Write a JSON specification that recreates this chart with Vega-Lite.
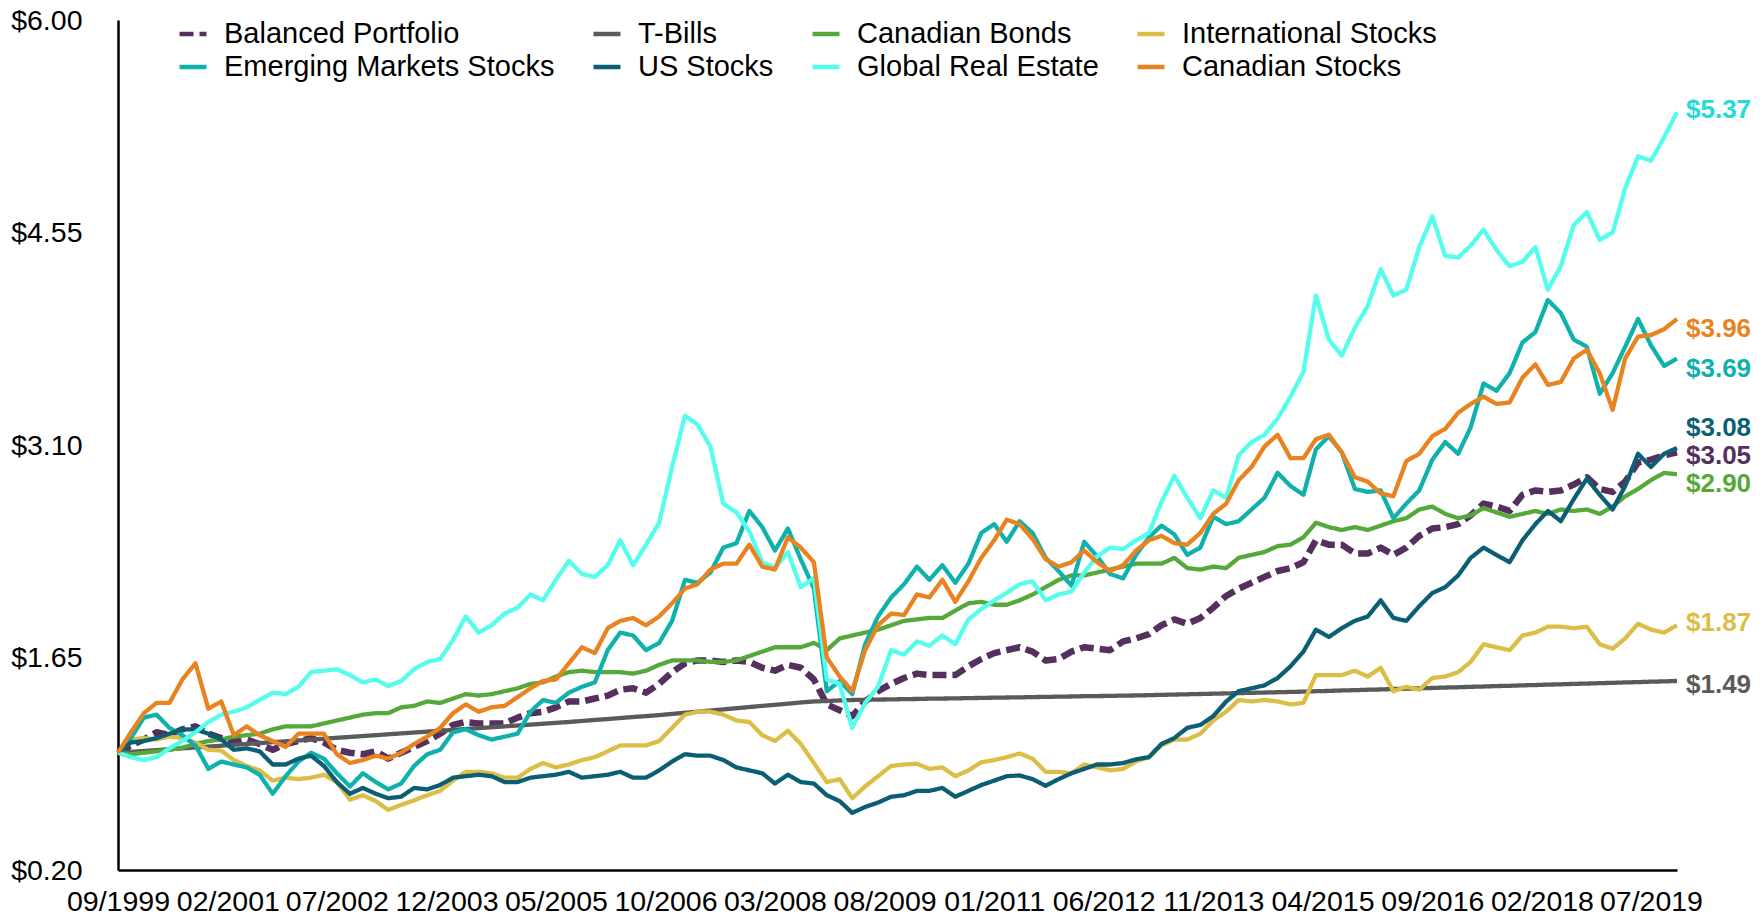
{
"$schema": "https://vega.github.io/schema/vega-lite/v6.json",
"width": 1559, "height": 850,
"autosize": "none",
"padding": {"left": 118, "top": 20, "right": 87, "bottom": 45},
"background": "white",
"config": {"view": {"stroke": null}, "font": "Liberation Sans"},
"data": {"values": [
{"d":"1999-09","bp":1.00,"tb":1.000,"cb":1.00,"is":1.00,"em":1.00,"us":1.00,"gr":1.00,"cs":1.00},
{"d":"1999-11","bp":1.05,"tb":1.006,"cb":0.99,"is":1.09,"em":1.10,"us":1.07,"gr":0.97,"cs":1.14},
{"d":"2000-01","bp":1.09,"tb":1.012,"cb":1.00,"is":1.10,"em":1.24,"us":1.08,"gr":0.95,"cs":1.27},
{"d":"2000-03","bp":1.14,"tb":1.018,"cb":1.01,"is":1.09,"em":1.26,"us":1.10,"gr":0.97,"cs":1.34},
{"d":"2000-05","bp":1.12,"tb":1.024,"cb":1.02,"is":1.11,"em":1.17,"us":1.13,"gr":1.03,"cs":1.34},
{"d":"2000-07","bp":1.16,"tb":1.030,"cb":1.035,"is":1.10,"em":1.12,"us":1.16,"gr":1.08,"cs":1.50},
{"d":"2000-09","bp":1.18,"tb":1.036,"cb":1.06,"is":1.07,"em":1.05,"us":1.16,"gr":1.14,"cs":1.61},
{"d":"2000-11","bp":1.13,"tb":1.042,"cb":1.08,"is":1.02,"em":0.89,"us":1.13,"gr":1.21,"cs":1.30},
{"d":"2001-01","bp":1.10,"tb":1.048,"cb":1.09,"is":1.015,"em":0.94,"us":1.09,"gr":1.26,"cs":1.35},
{"d":"2001-03","bp":1.075,"tb":1.054,"cb":1.11,"is":0.95,"em":0.92,"us":1.02,"gr":1.28,"cs":1.12},
{"d":"2001-05","bp":1.09,"tb":1.060,"cb":1.12,"is":0.91,"em":0.90,"us":1.03,"gr":1.31,"cs":1.18},
{"d":"2001-07","bp":1.06,"tb":1.066,"cb":1.13,"is":0.88,"em":0.85,"us":1.01,"gr":1.36,"cs":1.12},
{"d":"2001-09","bp":1.02,"tb":1.072,"cb":1.16,"is":0.81,"em":0.72,"us":0.92,"gr":1.41,"cs":1.08},
{"d":"2001-11","bp":1.06,"tb":1.078,"cb":1.18,"is":0.83,"em":0.84,"us":0.92,"gr":1.40,"cs":1.04},
{"d":"2002-01","bp":1.08,"tb":1.084,"cb":1.18,"is":0.82,"em":0.94,"us":0.96,"gr":1.45,"cs":1.13},
{"d":"2002-03","bp":1.10,"tb":1.090,"cb":1.18,"is":0.83,"em":1.00,"us":0.98,"gr":1.55,"cs":1.13},
{"d":"2002-05","bp":1.07,"tb":1.096,"cb":1.20,"is":0.85,"em":0.96,"us":0.91,"gr":1.56,"cs":1.13},
{"d":"2002-07","bp":1.02,"tb":1.102,"cb":1.22,"is":0.80,"em":0.86,"us":0.80,"gr":1.57,"cs":0.99},
{"d":"2002-09","bp":1.00,"tb":1.108,"cb":1.24,"is":0.68,"em":0.77,"us":0.72,"gr":1.53,"cs":0.93},
{"d":"2002-11","bp":0.99,"tb":1.114,"cb":1.26,"is":0.71,"em":0.86,"us":0.76,"gr":1.48,"cs":0.95},
{"d":"2003-01","bp":1.01,"tb":1.120,"cb":1.27,"is":0.67,"em":0.80,"us":0.72,"gr":1.50,"cs":0.98},
{"d":"2003-03","bp":0.96,"tb":1.126,"cb":1.27,"is":0.61,"em":0.75,"us":0.69,"gr":1.455,"cs":0.96},
{"d":"2003-05","bp":1.00,"tb":1.132,"cb":1.31,"is":0.645,"em":0.79,"us":0.70,"gr":1.49,"cs":1.00},
{"d":"2003-07","bp":1.04,"tb":1.138,"cb":1.32,"is":0.675,"em":0.91,"us":0.76,"gr":1.57,"cs":1.06},
{"d":"2003-09","bp":1.08,"tb":1.144,"cb":1.35,"is":0.71,"em":0.99,"us":0.75,"gr":1.62,"cs":1.11},
{"d":"2003-11","bp":1.13,"tb":1.150,"cb":1.34,"is":0.74,"em":1.02,"us":0.78,"gr":1.64,"cs":1.17},
{"d":"2004-01","bp":1.19,"tb":1.156,"cb":1.37,"is":0.81,"em":1.14,"us":0.83,"gr":1.77,"cs":1.27},
{"d":"2004-03","bp":1.21,"tb":1.162,"cb":1.40,"is":0.87,"em":1.16,"us":0.84,"gr":1.93,"cs":1.33},
{"d":"2004-05","bp":1.20,"tb":1.168,"cb":1.39,"is":0.87,"em":1.12,"us":0.85,"gr":1.82,"cs":1.28},
{"d":"2004-07","bp":1.20,"tb":1.174,"cb":1.40,"is":0.86,"em":1.09,"us":0.84,"gr":1.87,"cs":1.31},
{"d":"2004-09","bp":1.20,"tb":1.180,"cb":1.42,"is":0.83,"em":1.11,"us":0.80,"gr":1.95,"cs":1.32},
{"d":"2004-11","bp":1.24,"tb":1.186,"cb":1.44,"is":0.83,"em":1.13,"us":0.80,"gr":1.99,"cs":1.38},
{"d":"2005-01","bp":1.27,"tb":1.192,"cb":1.47,"is":0.89,"em":1.28,"us":0.83,"gr":2.08,"cs":1.44},
{"d":"2005-03","bp":1.28,"tb":1.198,"cb":1.48,"is":0.93,"em":1.36,"us":0.84,"gr":2.04,"cs":1.49},
{"d":"2005-05","bp":1.31,"tb":1.204,"cb":1.52,"is":0.90,"em":1.34,"us":0.85,"gr":2.18,"cs":1.50},
{"d":"2005-07","bp":1.35,"tb":1.210,"cb":1.55,"is":0.92,"em":1.41,"us":0.87,"gr":2.31,"cs":1.61},
{"d":"2005-09","bp":1.35,"tb":1.217,"cb":1.56,"is":0.95,"em":1.45,"us":0.83,"gr":2.22,"cs":1.72},
{"d":"2005-11","bp":1.37,"tb":1.224,"cb":1.55,"is":0.97,"em":1.48,"us":0.84,"gr":2.20,"cs":1.68},
{"d":"2006-01","bp":1.39,"tb":1.230,"cb":1.55,"is":1.01,"em":1.70,"us":0.85,"gr":2.28,"cs":1.85},
{"d":"2006-03","bp":1.43,"tb":1.237,"cb":1.55,"is":1.05,"em":1.82,"us":0.87,"gr":2.45,"cs":1.90},
{"d":"2006-05","bp":1.44,"tb":1.244,"cb":1.54,"is":1.05,"em":1.80,"us":0.83,"gr":2.28,"cs":1.92},
{"d":"2006-07","bp":1.41,"tb":1.250,"cb":1.56,"is":1.05,"em":1.70,"us":0.83,"gr":2.42,"cs":1.87},
{"d":"2006-09","bp":1.47,"tb":1.257,"cb":1.60,"is":1.08,"em":1.75,"us":0.88,"gr":2.57,"cs":1.93},
{"d":"2006-11","bp":1.55,"tb":1.265,"cb":1.63,"is":1.17,"em":1.90,"us":0.94,"gr":2.95,"cs":2.02},
{"d":"2007-01","bp":1.61,"tb":1.273,"cb":1.63,"is":1.26,"em":2.18,"us":0.99,"gr":3.30,"cs":2.12},
{"d":"2007-03","bp":1.63,"tb":1.280,"cb":1.63,"is":1.28,"em":2.16,"us":0.98,"gr":3.24,"cs":2.15},
{"d":"2007-05","bp":1.63,"tb":1.288,"cb":1.62,"is":1.28,"em":2.23,"us":0.98,"gr":3.09,"cs":2.25},
{"d":"2007-07","bp":1.62,"tb":1.296,"cb":1.62,"is":1.26,"em":2.40,"us":0.95,"gr":2.70,"cs":2.29},
{"d":"2007-09","bp":1.63,"tb":1.304,"cb":1.63,"is":1.22,"em":2.43,"us":0.90,"gr":2.64,"cs":2.29},
{"d":"2007-11","bp":1.62,"tb":1.312,"cb":1.66,"is":1.21,"em":2.65,"us":0.88,"gr":2.51,"cs":2.42},
{"d":"2008-01","bp":1.58,"tb":1.320,"cb":1.69,"is":1.12,"em":2.54,"us":0.86,"gr":2.30,"cs":2.27},
{"d":"2008-03","bp":1.56,"tb":1.327,"cb":1.72,"is":1.08,"em":2.38,"us":0.79,"gr":2.26,"cs":2.25},
{"d":"2008-05","bp":1.60,"tb":1.335,"cb":1.72,"is":1.15,"em":2.53,"us":0.85,"gr":2.37,"cs":2.47},
{"d":"2008-07","bp":1.58,"tb":1.343,"cb":1.72,"is":1.06,"em":2.32,"us":0.80,"gr":2.13,"cs":2.40},
{"d":"2008-09","bp":1.50,"tb":1.350,"cb":1.75,"is":0.93,"em":2.12,"us":0.79,"gr":2.19,"cs":2.30},
{"d":"2008-11","bp":1.33,"tb":1.353,"cb":1.70,"is":0.80,"em":1.42,"us":0.71,"gr":1.50,"cs":1.65},
{"d":"2009-01","bp":1.29,"tb":1.357,"cb":1.78,"is":0.82,"em":1.49,"us":0.67,"gr":1.47,"cs":1.52},
{"d":"2009-03","bp":1.25,"tb":1.360,"cb":1.80,"is":0.69,"em":1.40,"us":0.59,"gr":1.17,"cs":1.42},
{"d":"2009-05","bp":1.35,"tb":1.361,"cb":1.82,"is":0.77,"em":1.74,"us":0.63,"gr":1.34,"cs":1.70},
{"d":"2009-07","bp":1.42,"tb":1.363,"cb":1.84,"is":0.84,"em":1.93,"us":0.66,"gr":1.45,"cs":1.87},
{"d":"2009-09","bp":1.47,"tb":1.364,"cb":1.87,"is":0.91,"em":2.06,"us":0.70,"gr":1.70,"cs":1.95},
{"d":"2009-11","bp":1.51,"tb":1.366,"cb":1.90,"is":0.92,"em":2.15,"us":0.71,"gr":1.67,"cs":1.94},
{"d":"2010-01","bp":1.54,"tb":1.367,"cb":1.91,"is":0.925,"em":2.27,"us":0.74,"gr":1.76,"cs":2.08},
{"d":"2010-03","bp":1.53,"tb":1.369,"cb":1.92,"is":0.89,"em":2.18,"us":0.74,"gr":1.73,"cs":2.06},
{"d":"2010-05","bp":1.53,"tb":1.370,"cb":1.92,"is":0.90,"em":2.28,"us":0.76,"gr":1.80,"cs":2.18},
{"d":"2010-07","bp":1.53,"tb":1.371,"cb":1.97,"is":0.84,"em":2.16,"us":0.70,"gr":1.74,"cs":2.03},
{"d":"2010-09","bp":1.59,"tb":1.373,"cb":2.02,"is":0.88,"em":2.29,"us":0.74,"gr":1.91,"cs":2.17},
{"d":"2010-11","bp":1.64,"tb":1.374,"cb":2.03,"is":0.935,"em":2.50,"us":0.78,"gr":1.98,"cs":2.33},
{"d":"2011-01","bp":1.68,"tb":1.376,"cb":2.01,"is":0.95,"em":2.56,"us":0.81,"gr":2.04,"cs":2.45},
{"d":"2011-03","bp":1.70,"tb":1.377,"cb":2.01,"is":0.97,"em":2.44,"us":0.84,"gr":2.09,"cs":2.59},
{"d":"2011-05","bp":1.72,"tb":1.378,"cb":2.04,"is":0.995,"em":2.58,"us":0.845,"gr":2.15,"cs":2.56},
{"d":"2011-07","bp":1.69,"tb":1.380,"cb":2.08,"is":0.96,"em":2.50,"us":0.82,"gr":2.17,"cs":2.46},
{"d":"2011-09","bp":1.63,"tb":1.381,"cb":2.13,"is":0.87,"em":2.33,"us":0.775,"gr":2.04,"cs":2.32},
{"d":"2011-11","bp":1.64,"tb":1.383,"cb":2.18,"is":0.87,"em":2.24,"us":0.82,"gr":2.08,"cs":2.27},
{"d":"2012-01","bp":1.69,"tb":1.384,"cb":2.21,"is":0.86,"em":2.14,"us":0.86,"gr":2.10,"cs":2.30},
{"d":"2012-03","bp":1.72,"tb":1.386,"cb":2.21,"is":0.92,"em":2.44,"us":0.89,"gr":2.23,"cs":2.38},
{"d":"2012-05","bp":1.71,"tb":1.387,"cb":2.23,"is":0.90,"em":2.34,"us":0.92,"gr":2.34,"cs":2.30},
{"d":"2012-07","bp":1.70,"tb":1.388,"cb":2.25,"is":0.88,"em":2.22,"us":0.92,"gr":2.40,"cs":2.24},
{"d":"2012-09","bp":1.76,"tb":1.390,"cb":2.27,"is":0.89,"em":2.19,"us":0.93,"gr":2.39,"cs":2.28},
{"d":"2012-11","bp":1.78,"tb":1.391,"cb":2.29,"is":0.94,"em":2.35,"us":0.955,"gr":2.45,"cs":2.38},
{"d":"2013-01","bp":1.81,"tb":1.393,"cb":2.29,"is":0.97,"em":2.47,"us":0.97,"gr":2.50,"cs":2.45},
{"d":"2013-03","bp":1.87,"tb":1.395,"cb":2.29,"is":1.05,"em":2.55,"us":1.06,"gr":2.71,"cs":2.48},
{"d":"2013-05","bp":1.91,"tb":1.397,"cb":2.33,"is":1.09,"em":2.49,"us":1.10,"gr":2.89,"cs":2.43},
{"d":"2013-07","bp":1.88,"tb":1.399,"cb":2.26,"is":1.09,"em":2.35,"us":1.17,"gr":2.74,"cs":2.42},
{"d":"2013-09","bp":1.92,"tb":1.401,"cb":2.25,"is":1.13,"em":2.40,"us":1.19,"gr":2.60,"cs":2.50},
{"d":"2013-11","bp":1.99,"tb":1.403,"cb":2.27,"is":1.22,"em":2.61,"us":1.25,"gr":2.79,"cs":2.63},
{"d":"2014-01","bp":2.07,"tb":1.405,"cb":2.26,"is":1.28,"em":2.56,"us":1.35,"gr":2.74,"cs":2.70},
{"d":"2014-03","bp":2.12,"tb":1.407,"cb":2.33,"is":1.36,"em":2.58,"us":1.42,"gr":3.03,"cs":2.86},
{"d":"2014-05","bp":2.16,"tb":1.409,"cb":2.35,"is":1.35,"em":2.66,"us":1.44,"gr":3.12,"cs":2.95},
{"d":"2014-07","bp":2.20,"tb":1.411,"cb":2.37,"is":1.36,"em":2.74,"us":1.46,"gr":3.17,"cs":3.09},
{"d":"2014-09","bp":2.24,"tb":1.413,"cb":2.41,"is":1.35,"em":2.91,"us":1.51,"gr":3.28,"cs":3.17},
{"d":"2014-11","bp":2.26,"tb":1.415,"cb":2.42,"is":1.33,"em":2.82,"us":1.59,"gr":3.43,"cs":3.01},
{"d":"2015-01","bp":2.30,"tb":1.417,"cb":2.47,"is":1.34,"em":2.76,"us":1.69,"gr":3.60,"cs":3.01},
{"d":"2015-03","bp":2.45,"tb":1.420,"cb":2.57,"is":1.53,"em":3.07,"us":1.84,"gr":4.12,"cs":3.14},
{"d":"2015-05","bp":2.42,"tb":1.422,"cb":2.54,"is":1.53,"em":3.16,"us":1.79,"gr":3.82,"cs":3.17},
{"d":"2015-07","bp":2.42,"tb":1.425,"cb":2.52,"is":1.53,"em":3.05,"us":1.85,"gr":3.71,"cs":3.05},
{"d":"2015-09","bp":2.36,"tb":1.427,"cb":2.54,"is":1.56,"em":2.80,"us":1.90,"gr":3.90,"cs":2.88},
{"d":"2015-11","bp":2.36,"tb":1.430,"cb":2.52,"is":1.52,"em":2.78,"us":1.93,"gr":4.05,"cs":2.85},
{"d":"2016-01","bp":2.40,"tb":1.432,"cb":2.55,"is":1.58,"em":2.79,"us":2.04,"gr":4.30,"cs":2.77},
{"d":"2016-03","bp":2.35,"tb":1.435,"cb":2.58,"is":1.42,"em":2.60,"us":1.92,"gr":4.12,"cs":2.75},
{"d":"2016-05","bp":2.40,"tb":1.437,"cb":2.60,"is":1.45,"em":2.70,"us":1.90,"gr":4.16,"cs":2.99},
{"d":"2016-07","bp":2.48,"tb":1.440,"cb":2.66,"is":1.43,"em":2.79,"us":2.00,"gr":4.45,"cs":3.04},
{"d":"2016-09","bp":2.53,"tb":1.442,"cb":2.68,"is":1.51,"em":3.00,"us":2.09,"gr":4.66,"cs":3.16},
{"d":"2016-11","bp":2.54,"tb":1.445,"cb":2.63,"is":1.52,"em":3.12,"us":2.13,"gr":4.39,"cs":3.21},
{"d":"2017-01","bp":2.56,"tb":1.447,"cb":2.60,"is":1.55,"em":3.04,"us":2.21,"gr":4.38,"cs":3.32},
{"d":"2017-03","bp":2.62,"tb":1.450,"cb":2.62,"is":1.62,"em":3.22,"us":2.33,"gr":4.46,"cs":3.38},
{"d":"2017-05","bp":2.70,"tb":1.452,"cb":2.67,"is":1.74,"em":3.52,"us":2.40,"gr":4.57,"cs":3.43},
{"d":"2017-07","bp":2.68,"tb":1.455,"cb":2.64,"is":1.72,"em":3.47,"us":2.35,"gr":4.43,"cs":3.38},
{"d":"2017-09","bp":2.65,"tb":1.457,"cb":2.61,"is":1.70,"em":3.59,"us":2.30,"gr":4.32,"cs":3.39},
{"d":"2017-11","bp":2.76,"tb":1.460,"cb":2.63,"is":1.80,"em":3.80,"us":2.45,"gr":4.35,"cs":3.56},
{"d":"2018-01","bp":2.79,"tb":1.462,"cb":2.65,"is":1.82,"em":3.87,"us":2.56,"gr":4.45,"cs":3.65},
{"d":"2018-03","bp":2.78,"tb":1.465,"cb":2.63,"is":1.86,"em":4.09,"us":2.65,"gr":4.16,"cs":3.51},
{"d":"2018-05","bp":2.79,"tb":1.467,"cb":2.66,"is":1.86,"em":4.00,"us":2.58,"gr":4.32,"cs":3.53},
{"d":"2018-07","bp":2.83,"tb":1.470,"cb":2.65,"is":1.85,"em":3.82,"us":2.73,"gr":4.60,"cs":3.69},
{"d":"2018-09","bp":2.88,"tb":1.472,"cb":2.66,"is":1.86,"em":3.77,"us":2.87,"gr":4.69,"cs":3.75},
{"d":"2018-11","bp":2.80,"tb":1.475,"cb":2.63,"is":1.74,"em":3.45,"us":2.76,"gr":4.50,"cs":3.59},
{"d":"2019-01","bp":2.78,"tb":1.477,"cb":2.68,"is":1.71,"em":3.59,"us":2.66,"gr":4.55,"cs":3.34},
{"d":"2019-03","bp":2.85,"tb":1.480,"cb":2.75,"is":1.78,"em":3.77,"us":2.82,"gr":4.85,"cs":3.69},
{"d":"2019-05","bp":2.98,"tb":1.482,"cb":2.80,"is":1.88,"em":3.96,"us":3.04,"gr":5.07,"cs":3.84},
{"d":"2019-07","bp":3.00,"tb":1.485,"cb":2.86,"is":1.84,"em":3.78,"us":2.95,"gr":5.04,"cs":3.85},
{"d":"2019-09","bp":3.03,"tb":1.487,"cb":2.91,"is":1.82,"em":3.64,"us":3.04,"gr":5.20,"cs":3.89},
{"d":"2019-11","bp":3.05,"tb":1.490,"cb":2.90,"is":1.87,"em":3.69,"us":3.08,"gr":5.37,"cs":3.96}
]},
"transform": [{"fold": ["bp","tb","cb","is","em","us","gr","cs"], "as": ["k","v"]}],
"encoding": {
  "x": {"field": "d", "type": "temporal",
    "scale": {"type": "utc", "nice": false, "domain": [{"year":1999,"month":9,"date":1,"utc":true},{"year":2019,"month":11,"date":1,"utc":true}]},
    "axis": {"title": null, "format": "%m/%Y", "grid": false, "ticks": false, "tickSize": 0,
      "labelFont": "Liberation Sans", "labelFontSize": 28.5, "labelColor": "#000000", "labelPadding": 17,
      "labelOverlap": false, "labelFlush": false, "labelBound": false,
      "domainColor": "#000000", "domainWidth": 2.5,
      "values": [{"year":1999,"month":9,"date":1,"utc":true},{"year":2001,"month":2,"date":1,"utc":true},{"year":2002,"month":7,"date":1,"utc":true},{"year":2003,"month":12,"date":1,"utc":true},{"year":2005,"month":5,"date":1,"utc":true},{"year":2006,"month":10,"date":1,"utc":true},{"year":2008,"month":3,"date":1,"utc":true},{"year":2009,"month":8,"date":1,"utc":true},{"year":2011,"month":1,"date":1,"utc":true},{"year":2012,"month":6,"date":1,"utc":true},{"year":2013,"month":11,"date":1,"utc":true},{"year":2015,"month":4,"date":1,"utc":true},{"year":2016,"month":9,"date":1,"utc":true},{"year":2018,"month":2,"date":1,"utc":true},{"year":2019,"month":7,"date":1,"utc":true}]}},
  "y": {"field": "v", "type": "quantitative",
    "scale": {"domain": [0.2, 6.0], "nice": false, "zero": false},
    "axis": {"title": null, "values": [0.2, 1.65, 3.1, 4.55, 6.0], "format": "$.2f", "grid": false, "ticks": false, "tickSize": 0,
      "labelFont": "Liberation Sans", "labelFontSize": 28.5, "labelColor": "#000000", "labelPadding": 36, "labelFlush": false, "labelBound": false,
      "domainColor": "#000000", "domainWidth": 2.5}}
},
"layer": [
  {"mark": {"type": "line", "strokeJoin": "round"},
   "encoding": {
     "color": {"field": "k", "type": "nominal",
       "scale": {"domain": ["bp","tb","cb","is","em","us","gr","cs"], "range": ["#55305F","#5A5A5A","#55A83A","#DCBE46","#0EB1AB","#0B5F74","#55FDED","#E8831F"]},
       "legend": {"orient": "none", "legendX": 59, "legendY": -2, "direction": "horizontal", "columns": 4, "title": null,
         "labelFont": "Liberation Sans", "labelFontSize": 29, "labelColor": "#000000", "labelLimit": 600,
         "symbolType": "stroke", "symbolSize": 729, "symbolStrokeWidth": 4.5, "labelOffset": 15,
         "columnPadding": 29, "rowPadding": 2, "padding": 0,
         "labelExpr": "datum.label=='bp'?'Balanced Portfolio':datum.label=='tb'?'T-Bills':datum.label=='cb'?'Canadian Bonds':datum.label=='is'?'International Stocks':datum.label=='em'?'Emerging Markets Stocks':datum.label=='us'?'US Stocks':datum.label=='gr'?'Global Real Estate':'Canadian Stocks'"}},
     "strokeDash": {"field": "k", "type": "nominal",
       "scale": {"domain": ["bp","tb","cb","is","em","us","gr","cs"], "range": [[14,6],[1,0],[1,0],[1,0],[1,0],[1,0],[1,0],[1,0]]}},
     "strokeWidth": {"condition": {"test": "datum.k === 'bp'", "value": 6.5}, "value": 4.3}
   }},
  {"transform": [{"filter": "time(datum.d) > time(datetime(2019, 9, 15))"}, {"filter": {"field": "k", "oneOf": ["gr","is"]}}],
   "mark": {"type": "text", "align": "left", "baseline": "middle", "dx": 9, "dy": -2, "font": "Liberation Sans", "fontSize": 26, "fontWeight": "bold"},
   "encoding": {"text": {"field": "v", "type": "quantitative", "format": "$.2f"},
     "fill": {"field": "k", "type": "nominal", "legend": null, "scale": {"domain": ["bp","tb","cb","is","em","us","gr","cs"], "range": ["#55305F","#5A5A5A","#55A83A","#DCBE46","#0EB1AB","#0B5F74","#22DAD6","#E8831F"]}}}},
  {"transform": [{"filter": "time(datum.d) > time(datetime(2019, 9, 15))"}, {"filter": {"field": "k", "oneOf": ["bp","tb"]}}],
   "mark": {"type": "text", "align": "left", "baseline": "middle", "dx": 9, "dy": 4, "font": "Liberation Sans", "fontSize": 26, "fontWeight": "bold"},
   "encoding": {"text": {"field": "v", "type": "quantitative", "format": "$.2f"},
     "fill": {"field": "k", "type": "nominal", "legend": null}}},
  {"transform": [{"filter": "time(datum.d) > time(datetime(2019, 9, 15))"}, {"filter": {"field": "k", "oneOf": ["cs","em","cb"]}}],
   "mark": {"type": "text", "align": "left", "baseline": "middle", "dx": 9, "dy": 10, "font": "Liberation Sans", "fontSize": 26, "fontWeight": "bold"},
   "encoding": {"text": {"field": "v", "type": "quantitative", "format": "$.2f"},
     "fill": {"field": "k", "type": "nominal", "legend": null}}},
  {"transform": [{"filter": "time(datum.d) > time(datetime(2019, 9, 15))"}, {"filter": {"field": "k", "oneOf": ["us"]}}],
   "mark": {"type": "text", "align": "left", "baseline": "middle", "dx": 9, "dy": -20, "font": "Liberation Sans", "fontSize": 26, "fontWeight": "bold"},
   "encoding": {"text": {"field": "v", "type": "quantitative", "format": "$.2f"},
     "fill": {"field": "k", "type": "nominal", "legend": null}}}
]
}
